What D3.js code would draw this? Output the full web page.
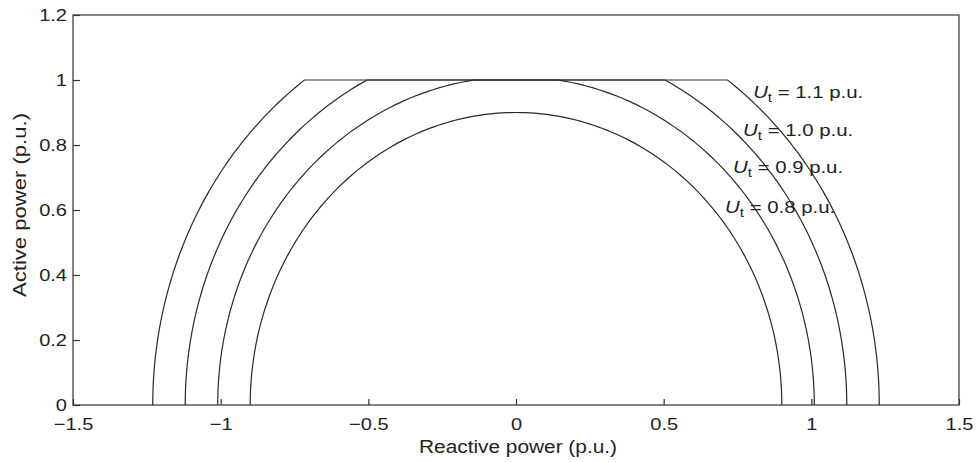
<!DOCTYPE html>
<html>
<head>
<meta charset="utf-8">
<script src="https://cdn.jsdelivr.net/npm/d3@7/dist/d3.min.js"></script>
<style>
  html, body { margin: 0; padding: 0; background: #fff; }
  svg { display: block; }
  text { font-family: "Liberation Sans", Arial, Helvetica, sans-serif; fill: #222; }
</style>
</head>
<body>
<svg id="chart" width="977" height="462"></svg>
<script>
// Generator P-Q capability at four terminal voltages
const xTicks = [-1.5, -1, -0.5, 0, 0.5, 1, 1.5];
const yTicks = [0, 0.2, 0.4, 0.6, 0.8, 1, 1.2];
const voltageLabels = ["0.8", "0.9", "1.0", "1.1"];   // U_t in p.u.
const limitRadii = [0.9, 1.01, 1.12, 1.23];          // MVA circle radius for each U_t
const activeLimit = 1;                                 // turbine limit, p.u.
// annotation anchors in data units (reactive, active)
const labelQ = [0.708, 0.735, 0.769, 0.803];
const labelP = [0.592, 0.715, 0.829, 0.946];

const svg = d3.select("#chart");
const margin = { left: 73, right: 18, top: 15, bottom: 57 };
const W = 977, H = 462;

const x = d3.scaleLinear().domain([-1.5, 1.5]).range([margin.left, W - margin.right]);
const y = d3.scaleLinear().domain([0, 1.2]).range([H - margin.bottom, margin.top]);

const fmt = d3.format("~g");
const stretch = 1.18;

// capability curves: circle of radius r, capped at the active power limit
const line = d3.line().x(d => x(d[0])).y(d => y(d[1]));
limitRadii.forEach(r => {
  const angles = d3.range(0, 181).map(a => a * Math.PI / 180);
  if (r > activeLimit) {
    const tc = Math.asin(activeLimit / r);
    angles.push(tc, Math.PI - tc);
  }
  angles.sort((a, b) => a - b);
  const pts = angles.map(t => [r * Math.cos(t), Math.min(r * Math.sin(t), activeLimit)]);
  svg.append("path")
    .attr("d", line(pts))
    .attr("fill", "none")
    .attr("stroke", "#2a2a2a")
    .attr("stroke-width", 1.2);
});

// frame
svg.append("rect")
  .attr("x", x(-1.5)).attr("y", y(1.2))
  .attr("width", x(1.5) - x(-1.5)).attr("height", y(0) - y(1.2))
  .attr("fill", "none").attr("stroke", "#333").attr("stroke-width", 1.2);

// axes with inward ticks
const xAxis = svg.append("g")
  .attr("transform", `translate(0,${y(0)})`)
  .call(d3.axisBottom(x).tickValues(xTicks).tickFormat(fmt).tickSizeInner(-6).tickSizeOuter(0).tickPadding(13));
const yAxis = svg.append("g")
  .attr("transform", `translate(${x(-1.5)},0)`)
  .call(d3.axisLeft(y).tickValues(yTicks).tickFormat(fmt).tickSizeInner(-7).tickSizeOuter(0).tickPadding(6));

[xAxis, yAxis].forEach(g => {
  g.select(".domain").remove();
  g.selectAll(".tick line").attr("stroke", "#333").attr("stroke-width", 1.2);
  g.selectAll(".tick text")
    .attr("fill", "#222")
    .style("font-family", '"Liberation Sans", Arial, sans-serif')
    .style("font-size", "17px");
});
xAxis.selectAll(".tick text").attr("transform", `scale(${stretch},1)`);
yAxis.selectAll(".tick text").attr("x", -6 / stretch).attr("transform", `scale(${stretch},1)`);

// axis titles
svg.append("text")
  .attr("x", (x(-1.5) + x(1.5)) / 2 + 2).attr("y", 453)
  .attr("text-anchor", "middle")
  .attr("textLength", 198).attr("lengthAdjust", "spacingAndGlyphs")
  .style("font-size", "17.5px")
  .text("Reactive power (p.u.)");

svg.append("text")
  .attr("transform", `translate(26,${(y(0) + y(1.2)) / 2 - 5}) rotate(-90)`)
  .attr("text-anchor", "middle")
  .attr("textLength", 184).attr("lengthAdjust", "spacingAndGlyphs")
  .style("font-size", "19px")
  .text("Active power (p.u.)");

// U_t annotations
voltageLabels.forEach((v, i) => {
  const t = svg.append("text")
    .attr("x", x(labelQ[i])).attr("y", y(labelP[i]))
    .attr("textLength", 110).attr("lengthAdjust", "spacingAndGlyphs")
    .style("font-size", "16px");
  t.append("tspan").attr("font-style", "italic").text("U");
  t.append("tspan").attr("dy", 4).style("font-size", "12px").text("t");
  t.append("tspan").attr("dy", -4).text(` = ${v} p.u.`);
});
</script>
</body>
</html>
